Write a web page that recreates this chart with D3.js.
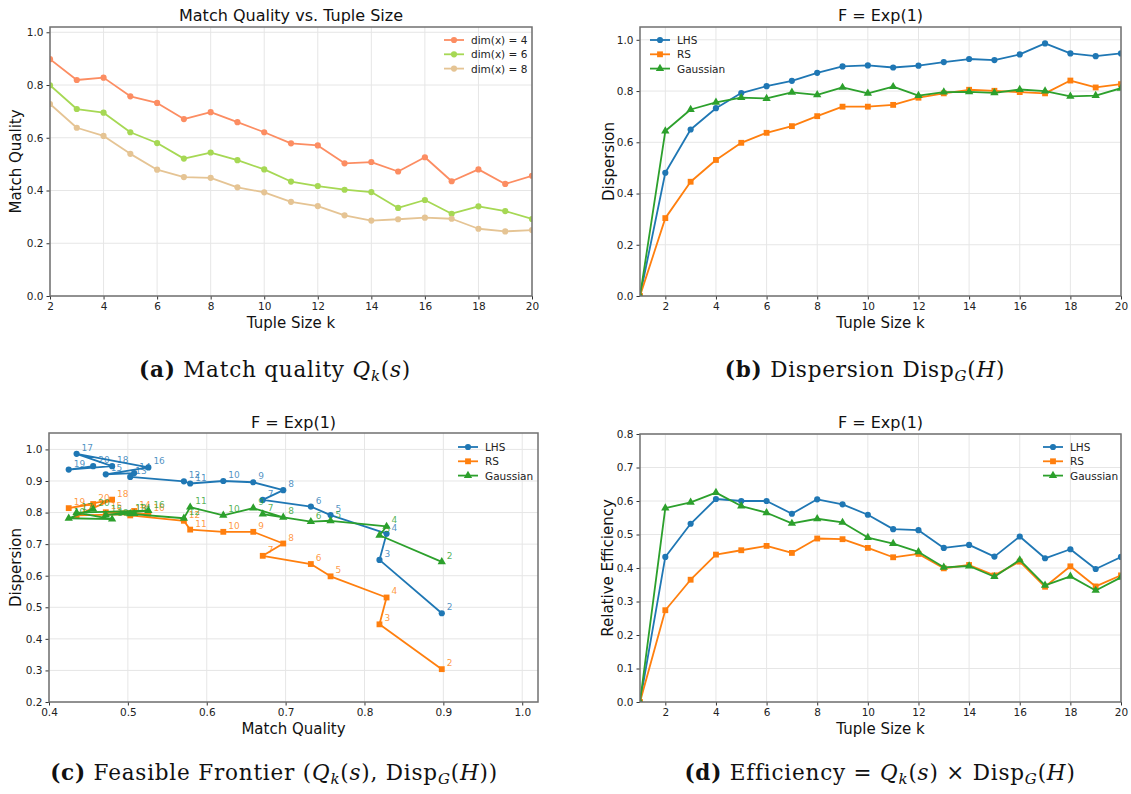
<!DOCTYPE html>
<html>
<head>
<meta charset="utf-8">
<script src="https://cdn.jsdelivr.net/npm/d3@7"></script>
<style>
  body { margin: 0; background: #fff; }
  svg { display: block; }
  text { font-family: "DejaVu Sans", sans-serif; }
  .caption { font-family: "DejaVu Serif", serif; font-size: 21.5px; letter-spacing: 0.8px; fill: #111; }
</style>
</head>
<body>
<svg id="chart" width="1131" height="794"></svg>
<script>
// data
const tupleSizes = d3.range(2, 21);          // k = 2..20
const tupleSizesFrom1 = d3.range(1, 21);     // k = 1..20 (panels b, d start at 0)

const mqDim4 = [0.898, 0.819, 0.828, 0.757, 0.732, 0.671, 0.697, 0.659, 0.621, 0.579,
  0.571, 0.503, 0.508, 0.472, 0.526, 0.435, 0.480, 0.425, 0.456];
const mqDim6 = [0.799, 0.709, 0.695, 0.621, 0.580, 0.521, 0.544, 0.515, 0.480, 0.434,
  0.417, 0.403, 0.394, 0.334, 0.364, 0.312, 0.340, 0.322, 0.292];
const mqDim8 = [0.728, 0.638, 0.607, 0.539, 0.479, 0.451, 0.448, 0.412, 0.393, 0.357,
  0.341, 0.306, 0.286, 0.291, 0.297, 0.293, 0.255, 0.245, 0.250];

const dispLHS = [0, 0.481, 0.650, 0.733, 0.792, 0.819, 0.840, 0.871, 0.896, 0.900, 0.892,
  0.899, 0.913, 0.925, 0.921, 0.943, 0.986, 0.947, 0.936, 0.947];
const dispRS = [0, 0.304, 0.446, 0.531, 0.598, 0.637, 0.663, 0.702, 0.739, 0.739, 0.746,
  0.774, 0.791, 0.805, 0.801, 0.796, 0.791, 0.841, 0.814, 0.827];
const dispGauss = [0, 0.644, 0.728, 0.756, 0.774, 0.771, 0.795, 0.785, 0.814, 0.791, 0.817,
  0.782, 0.796, 0.797, 0.793, 0.806, 0.800, 0.779, 0.782, 0.811];

const effLHS = [0, 0.433, 0.532, 0.606, 0.600, 0.600, 0.562, 0.605, 0.590, 0.559, 0.516,
  0.513, 0.460, 0.469, 0.434, 0.494, 0.429, 0.456, 0.397, 0.433];
const effRS = [0, 0.274, 0.365, 0.440, 0.453, 0.466, 0.445, 0.488, 0.486, 0.460, 0.432,
  0.442, 0.399, 0.409, 0.378, 0.419, 0.344, 0.405, 0.345, 0.378];
const effGauss = [0, 0.579, 0.596, 0.625, 0.585, 0.565, 0.533, 0.547, 0.536, 0.491, 0.473,
  0.448, 0.402, 0.406, 0.374, 0.424, 0.348, 0.375, 0.333, 0.372];

const methodNames = ['LHS', 'RS', 'Gaussian'];
const dimNames = ['dim(x) = 4', 'dim(x) = 6', 'dim(x) = 8'];

const methodColors = ['#1f77b4', '#ff7f0e', '#2ca02c'];
const dimColors = ['#fc8d62', '#a6d854', '#e5c494'];
const methodSymbols = [d3.symbolCircle, d3.symbolSquare, d3.symbolTriangle];
const symbolSize = [30, 34, 30];

const svg = d3.select('#chart');
const defs = svg.append('defs');
let clipCount = 0;

const makePanel = opts => {
  const x = d3.scaleLinear().domain(opts.xDomain).range([opts.left, opts.right]);
  const y = d3.scaleLinear().domain(opts.yDomain).range([opts.bottom, opts.top]);
  const g = svg.append('g');
  const clipId = `clip${clipCount++}`;
  defs.append('clipPath').attr('id', clipId)
    .append('rect')
    .attr('x', opts.left).attr('y', opts.top)
    .attr('width', opts.right - opts.left).attr('height', opts.bottom - opts.top);

  // grid
  g.append('g').selectAll('line').data(opts.xTicks).join('line')
    .attr('x1', d => x(d)).attr('x2', d => x(d))
    .attr('y1', opts.top).attr('y2', opts.bottom)
    .attr('stroke', '#e6e6e6').attr('stroke-width', 1);
  g.append('g').selectAll('line').data(opts.yTicks).join('line')
    .attr('y1', d => y(d)).attr('y2', d => y(d))
    .attr('x1', opts.left).attr('x2', opts.right)
    .attr('stroke', '#e6e6e6').attr('stroke-width', 1);

  const xAxis = g.append('g')
    .attr('transform', `translate(0,${opts.bottom})`)
    .call(d3.axisBottom(x).tickValues(opts.xTicks).tickFormat(opts.xFormat).tickSizeOuter(0).tickSize(3.5).tickPadding(3));
  const yAxis = g.append('g')
    .attr('transform', `translate(${opts.left},0)`)
    .call(d3.axisLeft(y).tickValues(opts.yTicks).tickFormat(opts.yFormat).tickSizeOuter(0).tickSize(3.5).tickPadding(3));
  [xAxis, yAxis].forEach(a => {
    a.select('.domain').remove();
    a.selectAll('text').attr('font-size', 10.5).attr('fill', '#222');
    a.selectAll('line').attr('stroke', '#333');
  });

  g.append('text')
    .attr('x', (opts.left + opts.right) / 2).attr('y', opts.titleY)
    .attr('text-anchor', 'middle').attr('font-size', 16).attr('fill', '#111')
    .text(opts.title);
  g.append('text')
    .attr('x', (opts.left + opts.right) / 2).attr('y', opts.xLabelY)
    .attr('text-anchor', 'middle').attr('font-size', 15).attr('fill', '#111')
    .text(opts.xLabel);
  g.append('text')
    .attr('transform', `translate(${opts.yLabelX},${(opts.top + opts.bottom) / 2}) rotate(-90)`)
    .attr('text-anchor', 'middle').attr('dominant-baseline', 'central')
    .attr('font-size', 15).attr('fill', '#111')
    .text(opts.yLabel);

  const plot = g.append('g').attr('clip-path', `url(#${clipId})`);
  const frame = () => g.append('rect')
    .attr('x', opts.left).attr('y', opts.top)
    .attr('width', opts.right - opts.left).attr('height', opts.bottom - opts.top)
    .attr('fill', 'none').attr('stroke', '#707070').attr('stroke-width', 1.5);
  return { g, plot, x, y, frame };
};

const drawSeries = (p, xs, ys, color, symbol, size) => {
  const pts = xs.map((xv, i) => [xv, ys[i]]);
  p.plot.append('path')
    .datum(pts)
    .attr('fill', 'none').attr('stroke', color).attr('stroke-width', 1.8)
    .attr('stroke-linejoin', 'round')
    .attr('d', d3.line().x(d => p.x(d[0])).y(d => p.y(d[1])));
  p.plot.append('g').selectAll('path').data(pts).join('path')
    .attr('transform', d => `translate(${p.x(d[0])},${p.y(d[1])})`)
    .attr('d', d3.symbol(symbol, size))
    .attr('fill', color);
};

const drawLegend = (p, x, y0, names, colors, symbols, sizes) => {
  names.forEach((name, i) => {
    const yy = y0 + i * 14.3;
    p.g.append('line')
      .attr('x1', x).attr('x2', x + 20).attr('y1', yy).attr('y2', yy)
      .attr('stroke', colors[i]).attr('stroke-width', 1.8);
    p.g.append('path')
      .attr('transform', `translate(${x + 10},${yy})`)
      .attr('d', d3.symbol(symbols[i], sizes[i]))
      .attr('fill', colors[i]);
    p.g.append('text')
      .attr('x', x + 27).attr('y', yy).attr('dominant-baseline', 'central')
      .attr('font-size', 10.5).attr('fill', '#222')
      .text(name);
  });
};

const fmt1 = d3.format('.1f');
const evenK = d3.range(2, 21, 2);

// (a) match quality
const pa = makePanel({
  left: 50, right: 532, top: 27, bottom: 296,
  xDomain: [2, 20], yDomain: [0, 1.02],
  xTicks: evenK, yTicks: d3.range(0, 1.01, 0.2), xFormat: d3.format('d'), yFormat: fmt1,
  title: 'Match Quality vs. Tuple Size', titleY: 21,
  xLabel: 'Tuple Size k', xLabelY: 328,
  yLabel: 'Match Quality', yLabelX: 16
});
[mqDim4, mqDim6, mqDim8].forEach((s, i) =>
  drawSeries(pa, tupleSizes, s, dimColors[i], d3.symbolCircle, 30));
pa.frame();
drawLegend(pa, 444, 40, dimNames, dimColors, [d3.symbolCircle, d3.symbolCircle, d3.symbolCircle], [30, 30, 30]);

// (b) dispersion
const pb = makePanel({
  left: 640, right: 1121, top: 27, bottom: 296,
  xDomain: [1, 20], yDomain: [0, 1.05],
  xTicks: evenK, yTicks: d3.range(0, 1.01, 0.2), xFormat: d3.format('d'), yFormat: fmt1,
  title: 'F = Exp(1)', titleY: 21,
  xLabel: 'Tuple Size k', xLabelY: 328,
  yLabel: 'Dispersion', yLabelX: 609
});
[dispLHS, dispRS, dispGauss].forEach((s, i) =>
  drawSeries(pb, tupleSizesFrom1, s, methodColors[i], methodSymbols[i], symbolSize[i]));
pb.frame();
drawLegend(pb, 650, 40, methodNames, methodColors, methodSymbols, symbolSize);

// (c) feasible frontier: x = match quality (dim 4), y = dispersion
const pc = makePanel({
  left: 49, right: 538, top: 433, bottom: 702,
  xDomain: [0.4, 1.02], yDomain: [0.2, 1.052],
  xTicks: d3.range(0.4, 1.01, 0.1), yTicks: d3.range(0.2, 1.01, 0.1), xFormat: fmt1, yFormat: fmt1,
  title: 'F = Exp(1)', titleY: 428,
  xLabel: 'Match Quality', xLabelY: 734,
  yLabel: 'Dispersion', yLabelX: 16
});
[dispLHS, dispRS, dispGauss].forEach((s, i) => {
  const ys = s.slice(1);
  drawSeries(pc, mqDim4, ys, methodColors[i], methodSymbols[i], symbolSize[i]);
  pc.plot.append('g').selectAll('text').data(tupleSizes).join('text')
    .attr('x', (k, j) => pc.x(mqDim4[j]) + 5)
    .attr('y', (k, j) => pc.y(ys[j]) - 3)
    .attr('font-size', 9).attr('fill', methodColors[i]).attr('fill-opacity', 0.8)
    .text(k => k);
});
pc.frame();
drawLegend(pc, 458, 447, methodNames, methodColors, methodSymbols, symbolSize);

// (d) efficiency
const pd = makePanel({
  left: 640, right: 1121, top: 434, bottom: 702,
  xDomain: [1, 20], yDomain: [0, 0.8],
  xTicks: evenK, yTicks: d3.range(0, 0.81, 0.1), xFormat: d3.format('d'), yFormat: fmt1,
  title: 'F = Exp(1)', titleY: 428,
  xLabel: 'Tuple Size k', xLabelY: 734,
  yLabel: 'Relative Efficiency', yLabelX: 608
});
[effLHS, effRS, effGauss].forEach((s, i) =>
  drawSeries(pd, tupleSizesFrom1, s, methodColors[i], methodSymbols[i], symbolSize[i]));
pd.frame();
drawLegend(pd, 1043, 447, methodNames, methodColors, methodSymbols, symbolSize);

// sub-figure captions
const caption = (cx, cy, parts) => {
  const t = svg.append('text').attr('class', 'caption')
    .attr('x', cx).attr('y', cy).attr('text-anchor', 'middle');
  parts.forEach(p => {
    const ts = t.append('tspan').text(p.t);
    if (p.b) ts.attr('font-weight', 'bold');
    if (p.i) ts.attr('font-style', 'italic');
    if (p.sub) ts.attr('font-size', 15).attr('dy', 4);
    if (p.up) ts.attr('dy', -4);
  });
};
caption(275, 377, [
  { t: '(a)', b: true }, { t: ' Match quality ' }, { t: 'Q', i: true },
  { t: 'k', i: true, sub: true }, { t: '(', up: true }, { t: 's', i: true }, { t: ')' }
]);
caption(865, 377, [
  { t: '(b)', b: true }, { t: ' Dispersion Disp' }, { t: 'G', i: true, sub: true },
  { t: '(', up: true }, { t: 'H', i: true }, { t: ')' }
]);
caption(274, 780, [
  { t: '(c)', b: true }, { t: ' Feasible Frontier (' }, { t: 'Q', i: true },
  { t: 'k', i: true, sub: true }, { t: '(', up: true }, { t: 's', i: true },
  { t: '), Disp' }, { t: 'G', i: true, sub: true }, { t: '(', up: true },
  { t: 'H', i: true }, { t: '))' }
]);
caption(880, 780, [
  { t: '(d)', b: true }, { t: ' Efficiency = ' }, { t: 'Q', i: true },
  { t: 'k', i: true, sub: true }, { t: '(', up: true }, { t: 's', i: true },
  { t: ') × Disp' }, { t: 'G', i: true, sub: true }, { t: '(', up: true },
  { t: 'H', i: true }, { t: ')' }
]);
</script>
</body>
</html>
